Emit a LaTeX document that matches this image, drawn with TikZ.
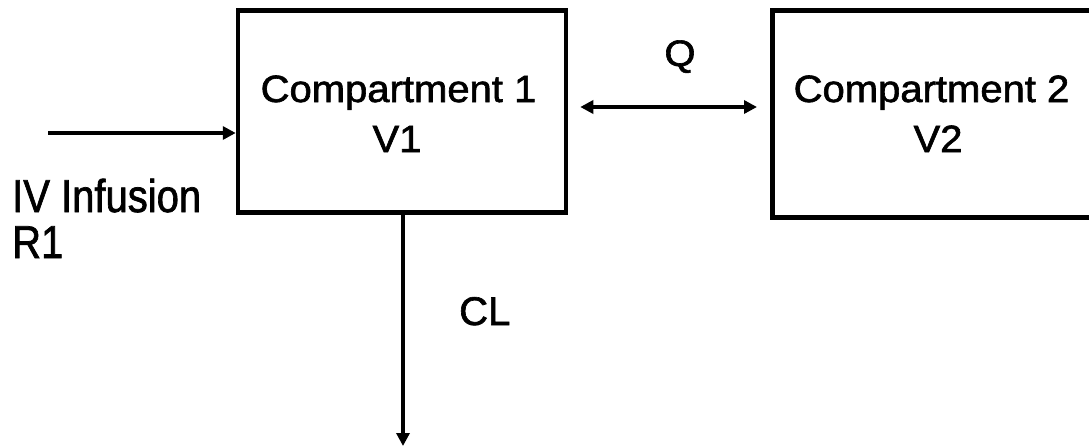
\documentclass[tikz,border=0pt]{standalone}
\usepackage{fontspec}
\setmainfont{Liberation Sans}[FakeBold=1.6]
\usetikzlibrary{arrows.meta}
\newcommand\lbl[2]{\scalebox{1}[#1]{#2}}
\tikzset{
  compbox/.style={draw=black, line width=4.5pt, fill=none, inner sep=0pt},
  flow/.style={line width=4pt, -{Triangle[length=13pt,width=13pt]}},
  biflow/.style={line width=4pt, {Triangle[length=13pt,width=13pt]}-{Triangle[length=13pt,width=13pt]}},
  txt/.style={font=\fontsize{40}{48}\selectfont, inner sep=0pt, text=black},
}
\begin{document}
\begin{tikzpicture}[x=1pt, y=-1pt]
\useasboundingbox (0,0) rectangle (1089,447);
\fill[white] (0,0) rectangle (1089,447);
% boxes
\node[compbox, minimum width=328pt, minimum height=202pt] (c1) at (402,111.5) {};
\node[compbox, minimum width=319pt, minimum height=207pt] (c2) at (931.75,114) {};
% texts
\node[txt, anchor=base] (t1a) at (398.5,102) {\lbl{0.95}{Compartment 1}};
\node[txt, anchor=base] (t1b) at (397,152) {\lbl{0.95}{V1}};
\node[txt, anchor=base] (t2a) at (931.5,102) {\lbl{0.95}{Compartment 2}};
\node[txt, anchor=base] (t2b) at (938,152) {\lbl{0.95}{V2}};
\node[txt, anchor=base west] (iv) at (12,212) {\lbl{1.15}{IV Infusion}};
\node[txt, anchor=base west] (r1) at (12,258) {\lbl{1.15}{R1}};
\node[txt, anchor=base] (q) at (680,66) {\lbl{0.92}{Q}};
\node[txt, anchor=base west] (cl) at (459,325) {\lbl{1}{CL}};
% connectors
\coordinate (src) at (48,133);
\coordinate (sink) at (403,446);
\draw[flow] (src) -- (c1.west |- src);
\draw[biflow] ([xshift=12pt]c1.east |- 0,107) -- ([xshift=-13pt]c2.west |- 0,107);
\draw[flow] (c1.south -| sink) -- (sink);
\end{tikzpicture}
\end{document}
